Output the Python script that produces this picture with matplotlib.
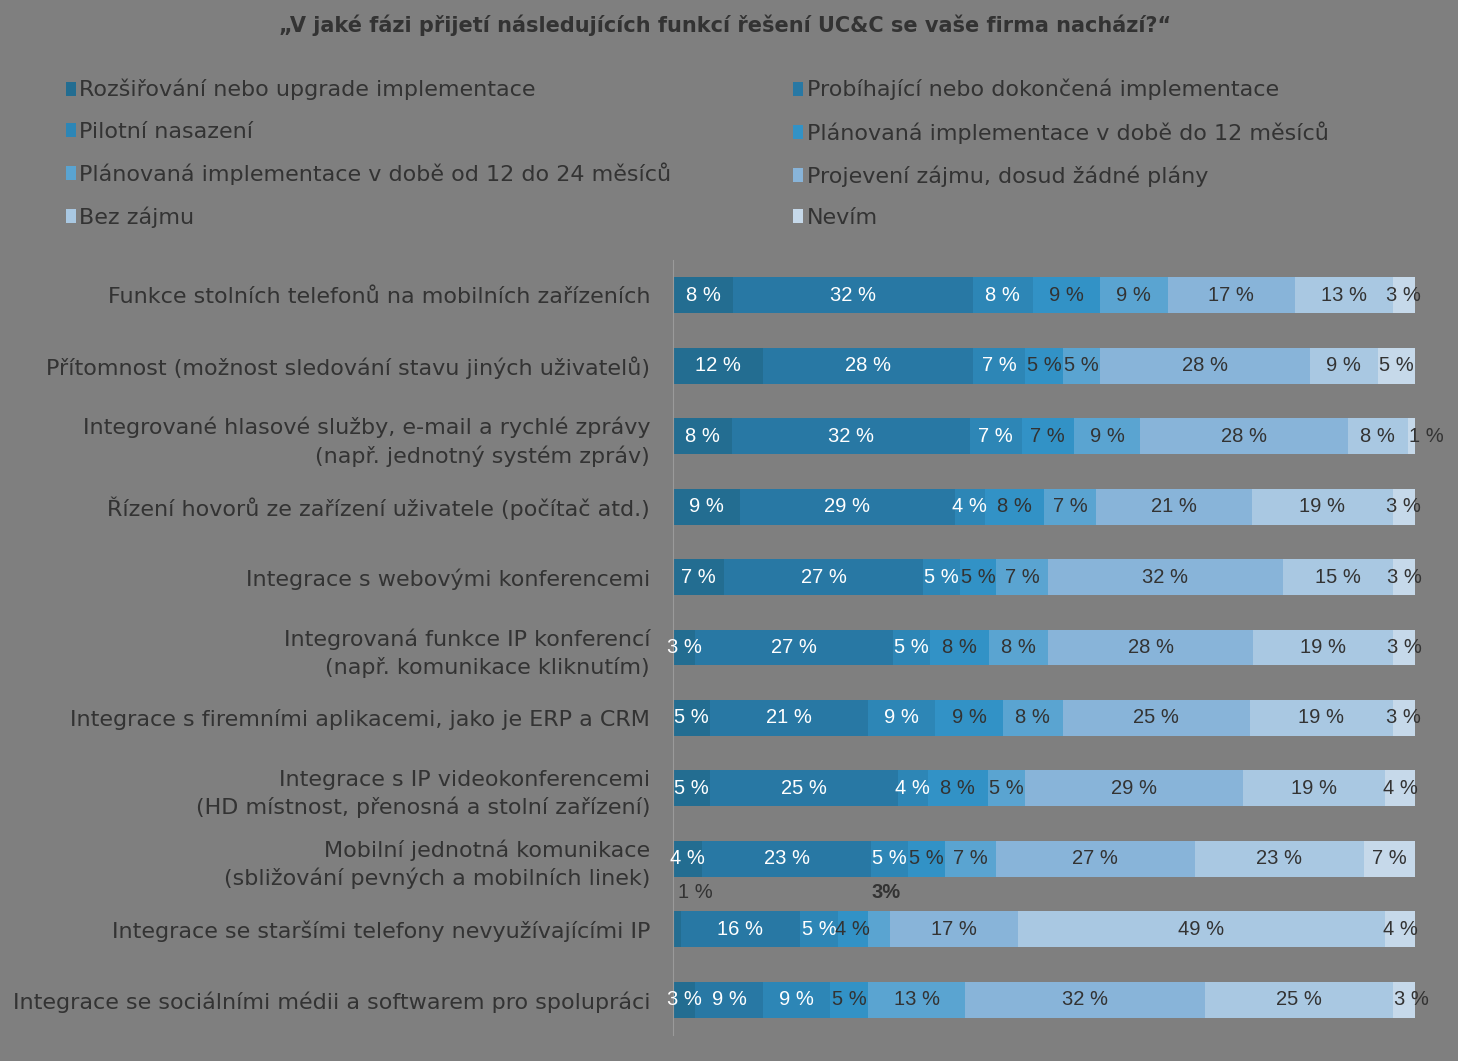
import matplotlib.pyplot as plt
import numpy as np
from matplotlib.patches import Patch

plt.rcParams['font.family'] = ['DejaVu Sans']

TITLE = '„V jaké fázi přijetí následujících funkcí řešení UC&C se vaše firma nachází?“'

CATEGORIES = [
    'Funkce stolních telefonů na mobilních zařízeních',
    'Přítomnost (možnost sledování stavu jiných uživatelů)',
    'Integrované hlasové služby, e-mail a rychlé zprávy\n(např. jednotný systém zpráv)',
    'Řízení hovorů ze zařízení uživatele (počítač atd.)',
    'Integrace s webovými konferencemi',
    'Integrovaná funkce IP konferencí\n(např. komunikace kliknutím)',
    'Integrace s firemními aplikacemi, jako je ERP a CRM',
    'Integrace s IP videokonferencemi\n(HD místnost, přenosná a stolní zařízení)',
    'Mobilní jednotná komunikace\n(sbližování pevných a mobilních linek)',
    'Integrace se staršími telefony nevyužívajícími IP',
    'Integrace se sociálními médii a softwarem pro spolupráci',
]

SERIES = [
    'Rozšiřování nebo upgrade implementace',
    'Probíhající nebo dokončená implementace',
    'Pilotní nasazení',
    'Plánovaná implementace v době do 12 měsíců',
    'Plánovaná implementace v době od 12 do 24 měsíců',
    'Projevení zájmu, dosud žádné plány',
    'Bez zájmu',
    'Nevím',
]

ROZSIROVANI = [8, 12, 8, 9, 7, 3, 5, 5, 4, 1, 3]
PROBIHAJICI = [32, 28, 32, 29, 27, 27, 21, 25, 23, 16, 9]
PILOTNI = [8, 7, 7, 4, 5, 5, 9, 4, 5, 5, 9]
DO_12 = [9, 5, 7, 8, 5, 8, 9, 8, 5, 4, 5]
OD_12_DO_24 = [9, 5, 9, 7, 7, 8, 8, 5, 7, 3, 13]
ZAJEM = [17, 28, 28, 21, 32, 28, 25, 29, 27, 17, 32]
BEZ_ZAJMU = [13, 9, 8, 19, 15, 19, 19, 19, 23, 49, 25]
NEVIM = [3, 5, 1, 3, 3, 3, 3, 4, 7, 4, 3]

COLORS = ['#236d91', '#2878a4', '#2d86b6', '#3292c6',
          '#5aa4d1', '#88b4d9', '#a9c8e2', '#c6d9ea']
BG = '#7f7f7f'
TXT = '#333333'
LBL_FONT = ['Liberation Sans', 'DejaVu Sans']
LBL_SIZE = 14.5


def main():
    data = np.array([ROZSIROVANI, PROBIHAJICI, PILOTNI, DO_12,
                     OD_12_DO_24, ZAJEM, BEZ_ZAJMU, NEVIM], dtype=float)
    shares = data / data.sum(axis=0) * 100

    fig = plt.figure(figsize=(14.58, 10.61), dpi=100, facecolor=BG)
    ax = fig.add_axes([0.4616, 0.0245, 0.5089, 0.7305])
    ax.set_facecolor(BG)

    y = np.arange(len(CATEGORIES))
    left = np.zeros(len(CATEGORIES))
    for i in range(len(SERIES)):
        ax.barh(y, shares[i], left=left, height=0.51, color=COLORS[i], label=SERIES[i])
        for j in range(len(CATEGORIES)):
            cx = left[j] + shares[i][j] / 2
            color = 'white' if i < 3 else TXT
            txt = '%d %%' % data[i][j]
            # two labels in the IP phone row sit above the bar
            if j == 9 and i == 0:
                ax.text(cx + 2.5, j - 0.52, txt, ha='center', va='center',
                        fontsize=LBL_SIZE, color=TXT, family=LBL_FONT)
                continue
            if j == 9 and i == 4:
                ax.text(cx + 1.0, j - 0.52, '%d%%' % data[i][j], ha='center', va='center',
                        fontsize=LBL_SIZE, color=TXT, fontweight='bold', family=LBL_FONT)
                continue
            if i == 7 and j in (2, 10):
                cx += 2.0 if j == 2 else 1.0
            ax.text(cx, j, txt, ha='center', va='center', fontsize=LBL_SIZE, color=color,
                    family=LBL_FONT)
        left += shares[i]

    ax.set_xlim(0, 100)
    ax.set_ylim(len(CATEGORIES) - 0.5, -0.5)
    ax.set_yticks(y)
    ax.set_yticklabels(CATEGORIES, fontsize=16, color=TXT, linespacing=1.4)
    ax.tick_params(axis='y', length=0, pad=16.5)
    ax.set_xticks([])
    for s in ['top', 'right', 'bottom']:
        ax.spines[s].set_visible(False)
    ax.spines['left'].set_color('#9a9a9a')
    ax.spines['left'].set_linewidth(0.8)

    fig.text(0.497, 0.976, TITLE, ha='center', va='center', fontsize=15,
             fontweight='bold', color=TXT)

    handles = [Patch(facecolor=c) for c in COLORS]
    for col, x0 in [(0, 0.039), (1, 0.538)]:
        idx = [col, col + 2, col + 4, col + 6]
        fig.legend([handles[k] for k in idx], [SERIES[k] for k in idx],
                   loc='upper left', bbox_to_anchor=(x0, 0.934), frameon=False,
                   fontsize=16, labelcolor=TXT, handlelength=0.45, handleheight=0.6,
                   handletextpad=0.15, labelspacing=0.95, borderaxespad=0)

    fig.savefig('out.png', dpi=100, facecolor=BG)


if __name__ == '__main__':
    main()
